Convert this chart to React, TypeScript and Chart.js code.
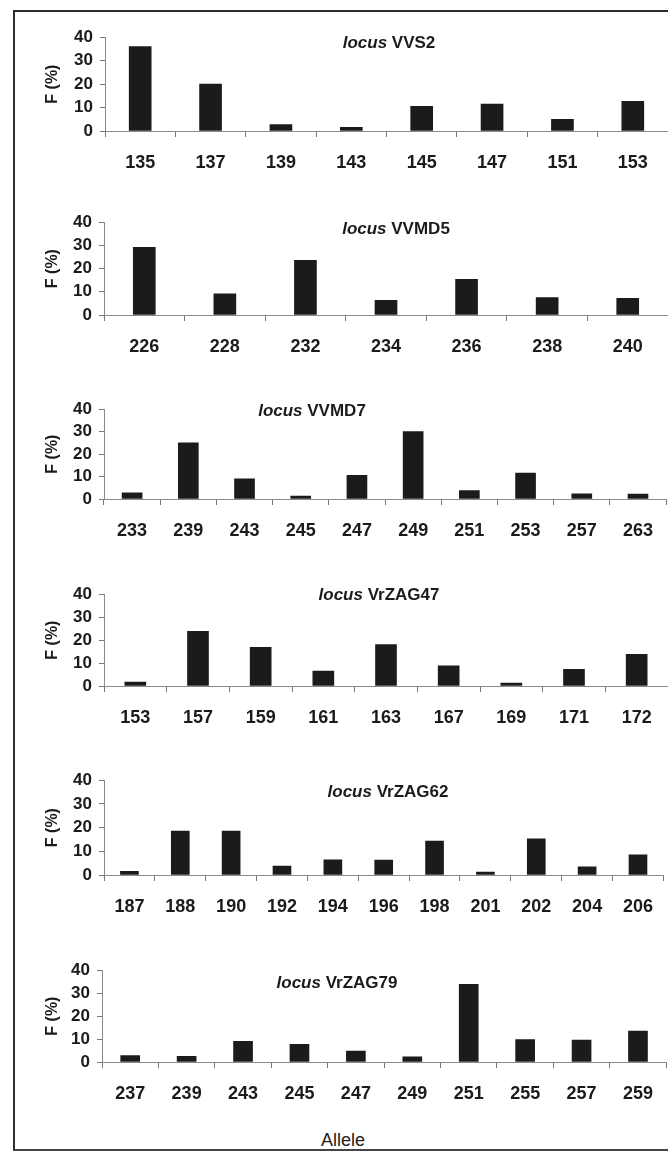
import React, { useEffect, useRef } from 'react';
import { Chart, registerables } from 'chart.js';

Chart.register(...registerables);

// ---- data ----
const vvs2Alleles = ['135', '137', '139', '143', '145', '147', '151', '153'];
const vvs2Freq = [36, 20, 2.7, 1.6, 10.5, 11.5, 5, 12.7];

const vvmd5Alleles = ['226', '228', '232', '234', '236', '238', '240'];
const vvmd5Freq = [29.2, 9.1, 23.6, 6.3, 15.4, 7.5, 7.2];

const vvmd7Alleles = ['233', '239', '243', '245', '247', '249', '251', '253', '257', '263'];
const vvmd7Freq = [2.8, 25, 9, 1.3, 10.5, 30, 3.8, 11.5, 2.3, 2.2];

const vrzag47Alleles = ['153', '157', '159', '161', '163', '167', '169', '171', '172'];
const vrzag47Freq = [1.7, 23.8, 16.8, 6.5, 18, 8.8, 1.3, 7.3, 13.8];

const vrzag62Alleles = ['187', '188', '190', '192', '194', '196', '198', '201', '202', '204', '206'];
const vrzag62Freq = [1.5, 18.5, 18.5, 3.8, 6.4, 6.3, 14.3, 1.2, 15.3, 3.5, 8.5];

const vrzag79Alleles = ['237', '239', '243', '245', '247', '249', '251', '255', '257', '259'];
const vrzag79Freq = [2.8, 2.5, 9, 7.7, 4.8, 2.2, 33.8, 9.8, 9.5, 13.5];

const yTicks = [0, 10, 20, 30, 40];
const loci = ['VVS2', 'VVMD5', 'VVMD7', 'VrZAG47', 'VrZAG62', 'VrZAG79'];
const yTitle = 'F (%)';
const xTitle = 'Allele';

// ---- layout (positions / sizes, separate from data) ----
type Layout = { y40: number; y0: number; axisX: number; bar: number; tx: number; ty: number };
const layouts: Layout[] = [
  { y40: 34, y0: 131, axisX: 105, bar: 22, tx: 389, ty: 43 },
  { y40: 219, y0: 315, axisX: 104, bar: 22, tx: 396, ty: 229 },
  { y40: 406, y0: 499, axisX: 104, bar: 20, tx: 312, ty: 411 },
  { y40: 591, y0: 686, axisX: 104, bar: 21, tx: 379, ty: 595 },
  { y40: 777, y0: 875, axisX: 104, bar: 18, tx: 388, ty: 792 },
  { y40: 967, y0: 1062, axisX: 102, bar: 19, tx: 337, ty: 983 },
];

const dataSets: { labels: string[]; values: number[] }[] = [
  { labels: vvs2Alleles, values: vvs2Freq },
  { labels: vvmd5Alleles, values: vvmd5Freq },
  { labels: vvmd7Alleles, values: vvmd7Freq },
  { labels: vrzag47Alleles, values: vrzag47Freq },
  { labels: vrzag62Alleles, values: vrzag62Freq },
  { labels: vrzag79Alleles, values: vrzag79Freq },
];

const FONT = "'Liberation Sans', Arial, Helvetica, sans-serif";
const INK = '#1b1b1b';
const PAD_TOP = 14;
const PAD_LEFT = 39;
const X_AXIS_H = 42;
const W = 668;

const locusTitle = {
  id: 'locusTitle',
  afterDraw(chart: any, _args: any, opts: any) {
    const ctx = chart.ctx as CanvasRenderingContext2D;
    ctx.save();
    const fItal = `italic bold 17px ${FONT}`;
    const fBold = `bold 17px ${FONT}`;
    ctx.font = fItal;
    const w1 = ctx.measureText('locus ').width;
    ctx.font = fBold;
    const w2 = ctx.measureText(opts.name).width;
    const x = opts.x - (w1 + w2) / 2;
    ctx.fillStyle = INK;
    ctx.textBaseline = 'middle';
    ctx.textAlign = 'left';
    ctx.font = fItal;
    ctx.fillText('locus ', x, opts.y);
    ctx.font = fBold;
    ctx.fillText(opts.name, x + w1, opts.y);
    ctx.restore();
  },
};

function Panel({ idx }: { idx: number }) {
  const ref = useRef<HTMLCanvasElement | null>(null);
  const L = layouts[idx];
  const top = L.y40 - PAD_TOP;
  const H = L.y0 - top + X_AXIS_H;

  useEffect(() => {
    if (!ref.current) return;
    const d = dataSets[idx];
    const chart = new Chart(ref.current, {
      type: 'bar',
      data: {
        labels: d.labels,
        datasets: [
          {
            data: d.values,
            backgroundColor: INK,
            borderWidth: 0,
            barThickness: L.bar,
          },
        ],
      },
      plugins: [locusTitle as any],
      options: {
        animation: false,
        responsive: false,
        devicePixelRatio: 1,
        layout: { padding: { top: PAD_TOP, left: PAD_LEFT, right: 0, bottom: 0 } },
        plugins: {
          legend: { display: false },
          tooltip: { enabled: false },
          locusTitle: { name: loci[idx], x: L.tx, y: L.ty - top },
        } as any,
        scales: {
          x: {
            type: 'category',
            offset: true,
            grid: {
              offset: true,
              drawOnChartArea: false,
              drawTicks: true,
              tickLength: 6,
              color: '#777',
            },
            border: { display: true, color: '#8a8a8a', width: 1 },
            ticks: {
              font: { family: FONT, size: 18, weight: 'bold' },
              color: INK,
              padding: 15,
              maxRotation: 0,
              autoSkip: false,
            },
            afterFit: (s: any) => {
              s.height = X_AXIS_H;
            },
          },
          y: {
            min: 0,
            max: 40,
            afterBuildTicks: (s: any) => {
              s.ticks = yTicks.map((v) => ({ value: v }));
            },
            grid: {
              drawOnChartArea: false,
              drawTicks: true,
              tickLength: 5,
              color: '#777',
            },
            border: { display: true, color: '#8a8a8a', width: 1 },
            ticks: {
              font: { family: FONT, size: 17, weight: 'bold' },
              color: INK,
              padding: 7,
              autoSkip: false,
            },
            title: {
              display: true,
              text: yTitle,
              font: { family: FONT, size: 16, weight: 'bold' },
              color: INK,
              padding: { top: 4, bottom: 4 },
            },
            afterFit: (s: any) => {
              s.width = L.axisX - PAD_LEFT;
            },
          },
        },
      },
    });
    return () => chart.destroy();
  }, [idx]);

  return (
    <div style={{ position: 'absolute', left: 0, top, width: W, height: H }}>
      <canvas ref={ref} width={W} height={H} style={{ display: 'block', width: W, height: H }} />
    </div>
  );
}

export default function App() {
  return (
    <div
      style={{
        position: 'absolute',
        left: 0,
        top: 0,
        width: W,
        height: 1153,
        background: '#fff',
        overflow: 'hidden',
      }}
    >
      <div
        style={{
          position: 'absolute',
          left: 13,
          top: 10,
          width: W - 13,
          height: 1141,
          borderLeft: '2px solid #2e2e2e',
          borderTop: '2px solid #2e2e2e',
          borderBottom: '2px solid #444',
          boxSizing: 'border-box',
        }}
      />
      {layouts.map((_, i) => (
        <Panel key={i} idx={i} />
      ))}
      <div
        style={{
          position: 'absolute',
          left: 283,
          width: 120,
          top: 1129,
          textAlign: 'center',
          fontFamily: FONT,
          fontSize: 18,
          lineHeight: '22px',
          color: '#222',
        }}
      >
        {xTitle}
      </div>
    </div>
  );
}
